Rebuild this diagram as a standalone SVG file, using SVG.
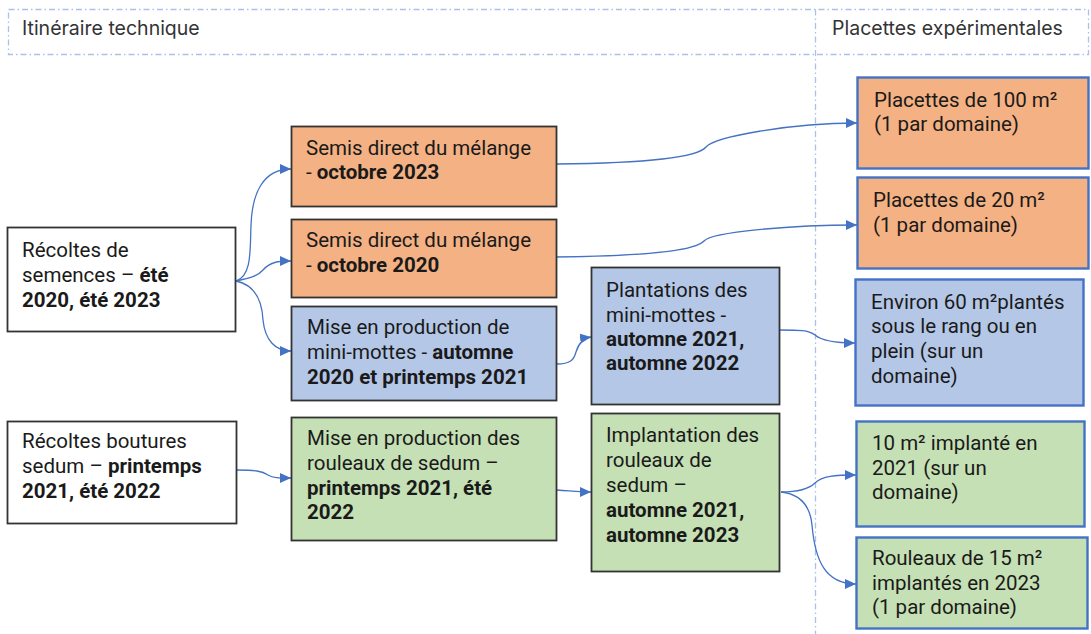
<svg xmlns="http://www.w3.org/2000/svg" width="1091" height="634" viewBox="0 0 1091 634">
<style>
.hdr{fill:none;stroke:#A9C2E8;stroke-width:1.3;stroke-dasharray:6 3 1.5 3}
.ht{font-family:Inter,"Liberation Sans",sans-serif;font-size:19.5px;fill:#333}
.t{font-family:Roboto,"Liberation Sans",sans-serif;font-size:20.5px;fill:#1a1a1a}
.b{font-weight:bold}
.lw{fill:#fff;stroke:#333;stroke-width:1.8}
.lo{fill:#F4B183;stroke:#333;stroke-width:1.8}
.lb{fill:#B4C7E7;stroke:#333;stroke-width:1.8}
.lg{fill:#C5E0B4;stroke:#333;stroke-width:1.8}
.ro{fill:#F4B183;stroke:#4472C4;stroke-width:2.4}
.rb{fill:#B4C7E7;stroke:#4472C4;stroke-width:2.4}
.rg{fill:#C5E0B4;stroke:#4472C4;stroke-width:2.4}
.c{fill:none;stroke:#4472C4;stroke-width:1.3}
</style>
<defs>
<marker id="ah" markerUnits="userSpaceOnUse" markerWidth="12" markerHeight="11" refX="11" refY="5" orient="auto">
<path d="M0,0 L11,5 L0,10 z" fill="#4472C4"/>
</marker>
</defs>
<rect width="1091" height="634" fill="#fff"/>
<g id="header">
<rect class="hdr" x="8.5" y="9.5" width="1080" height="45"/>
<line class="hdr" x1="815.5" y1="9.5" x2="815.5" y2="634"/>
<text class="ht" x="22" y="35">Itinéraire technique</text>
<text class="ht" x="832" y="35">Placettes expérimentales</text>
</g>
<g id="connectors">
<path class="c" marker-end="url(#ah)" d="M236,281 C252,276 250,250 251,225 C252,195 262,169 291,169"/>
<path class="c" marker-end="url(#ah)" d="M236,281 C250,278 258,276 263,270 C270,262 278,261 291,261"/>
<path class="c" marker-end="url(#ah)" d="M236,281 C255,285 262,300 263,320 C265,340 275,351 291,351"/>
<path class="c" marker-end="url(#ah)" d="M557,164 C650,163 698,157 706,147 C714,137 790,123 857,123"/>
<path class="c" marker-end="url(#ah)" d="M555,257 C650,256 696,250 704,241 C712,232 790,225 857,225"/>
<path class="c" marker-end="url(#ah)" d="M557,364 C570,364 574,360 576,352 C579,342 584,338 591,337"/>
<path class="c" marker-end="url(#ah)" d="M779,330 C800,330 808,330 815,335 C822,341 835,343 855,343"/>
<path class="c" marker-end="url(#ah)" d="M237,470 C255,470 262,471 268,475 C273,478 278,478 291,478"/>
<path class="c" marker-end="url(#ah)" d="M557,490 C572,491 578,492 591,492"/>
<path class="c" marker-end="url(#ah)" d="M781,492 C800,492 810,488 815,483 C822,476 835,475 856,475"/>
<path class="c" marker-end="url(#ah)" d="M781,492 C800,494 810,505 812,525 C815,560 825,584 856,584"/>
</g>
<g id="n-recoltes-semences">
<rect class="lw" x="7.5" y="227.5" width="228" height="104"/>
<text class="t" x="22" y="257">Récoltes de</text>
<text class="t" x="22" y="282">semences – <tspan class="b">été</tspan></text>
<text class="t b" x="22" y="307">2020, été 2023</text>
</g>
<g id="n-semis-2023">
<rect class="lo" x="291.5" y="126.5" width="265" height="80"/>
<text class="t" x="306" y="155">Semis direct du mélange</text>
<text class="t" x="306" y="179">- <tspan class="b">octobre 2023</tspan></text>
</g>
<g id="n-semis-2020">
<rect class="lo" x="291.5" y="219.5" width="265" height="78"/>
<text class="t" x="306" y="247">Semis direct du mélange</text>
<text class="t" x="306" y="272">- <tspan class="b">octobre 2020</tspan></text>
</g>
<g id="n-minimottes">
<rect class="lb" x="291.5" y="306.5" width="265" height="94"/>
<text class="t" x="307" y="334">Mise en production de</text>
<text class="t" x="307" y="359">mini-mottes - <tspan class="b">automne</tspan></text>
<text class="t b" x="307" y="384">2020 et printemps 2021</text>
</g>
<g id="n-plantations">
<rect class="lb" x="591.5" y="267.5" width="188" height="137"/>
<text class="t" x="606" y="297">Plantations des</text>
<text class="t" x="606" y="322">mini-mottes -</text>
<text class="t b" x="606" y="346">automne 2021,</text>
<text class="t b" x="606" y="370">automne 2022</text>
</g>
<g id="n-placettes-100">
<rect class="ro" x="857.5" y="77.5" width="231" height="91"/>
<text class="t" x="874" y="107">Placettes de 100 m²</text>
<text class="t" x="874" y="131">(1 par domaine)</text>
</g>
<g id="n-placettes-20">
<rect class="ro" x="857.5" y="177.5" width="231" height="91"/>
<text class="t" x="873" y="207">Placettes de 20 m²</text>
<text class="t" x="873" y="232">(1 par domaine)</text>
</g>
<g id="n-environ-60">
<rect class="rb" x="855.5" y="279.5" width="228" height="126"/>
<text class="t" x="871" y="309">Environ 60 m²plantés</text>
<text class="t" x="871" y="333">sous le rang ou en</text>
<text class="t" x="871" y="358">plein (sur un</text>
<text class="t" x="871" y="383">domaine)</text>
</g>
<g id="n-recoltes-boutures">
<rect class="lw" x="7.5" y="421.5" width="229" height="102"/>
<text class="t" x="22" y="448">Récoltes boutures</text>
<text class="t" x="22" y="473">sedum – <tspan class="b">printemps</tspan></text>
<text class="t b" x="22" y="498">2021, été 2022</text>
</g>
<g id="n-rouleaux-production">
<rect class="lg" x="291.5" y="417.5" width="265" height="123"/>
<text class="t" x="307" y="445">Mise en production des</text>
<text class="t" x="307" y="470">rouleaux de sedum –</text>
<text class="t b" x="307" y="495">printemps 2021, été</text>
<text class="t b" x="307" y="519">2022</text>
</g>
<g id="n-implantation">
<rect class="lg" x="591.5" y="413.5" width="188" height="158"/>
<text class="t" x="606" y="442">Implantation des</text>
<text class="t" x="606" y="467">rouleaux de</text>
<text class="t" x="606" y="492">sedum –</text>
<text class="t b" x="606" y="517">automne 2021,</text>
<text class="t b" x="606" y="542">automne 2023</text>
</g>
<g id="n-10m2">
<rect class="rg" x="856.5" y="421.5" width="228" height="105"/>
<text class="t" x="872" y="450">10 m² implanté en</text>
<text class="t" x="872" y="475">2021 (sur un</text>
<text class="t" x="872" y="499">domaine)</text>
</g>
<g id="n-15m2">
<rect class="rg" x="856.5" y="537.5" width="231" height="91"/>
<text class="t" x="872" y="565">Rouleaux de 15 m²</text>
<text class="t" x="872" y="590">implantés en 2023</text>
<text class="t" x="872" y="614">(1 par domaine)</text>
</g>
</svg>
